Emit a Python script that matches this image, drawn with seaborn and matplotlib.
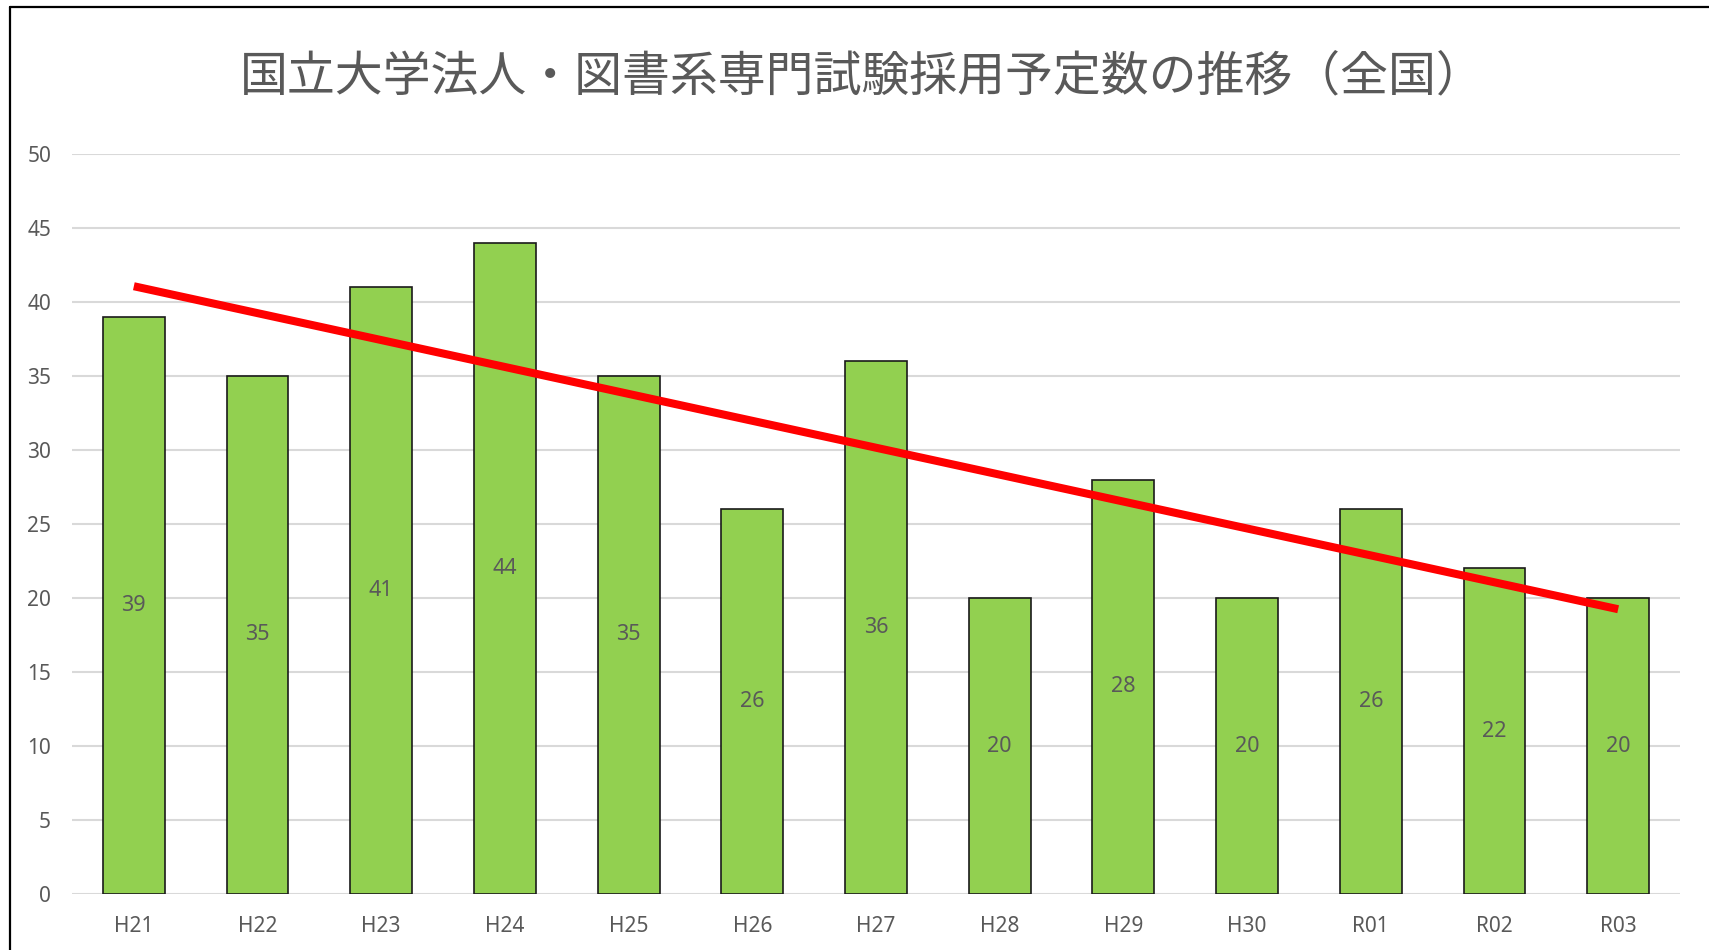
import numpy as np
import pandas as pd
import matplotlib
matplotlib.use("Agg")
import matplotlib.pyplot as plt
from matplotlib.lines import Line2D
import seaborn as sns

# Recruitment quota per fiscal year
categories = ["H21", "H22", "H23", "H24", "H25", "H26", "H27",
              "H28", "H29", "H30", "R01", "R02", "R03"]
values = [39, 35, 41, 44, 35, 26, 36, 20, 28, 20, 26, 22, 20]
title = "国立大学法人・図書系専門試験採用予定数の推移（全国）"
yticks = [0, 5, 10, 15, 20, 25, 30, 35, 40, 45, 50]

sns.set_theme(style="white")
plt.rcParams["font.family"] = ["Noto Sans", "Noto Sans CJK JP", "DejaVu Sans"]

TEXT = "#595959"
GRID = "#d9d9d9"
GREEN = "#92D050"

df = pd.DataFrame({"year": categories, "count": values,
                   "pos": np.arange(len(categories))})

W, H = 1709, 950
fig = plt.figure(figsize=(W / 100, H / 100), dpi=100)
ax = fig.add_axes([72 / W, 1 - 894 / H, (1680 - 72) / W, (894 - 154) / H])

sns.barplot(data=df, x="year", y="count", color=GREEN, saturation=1,
            width=0.5, edgecolor="#1a1a1a", linewidth=1.2, ax=ax, zorder=2)

# Linear trend line across the series
sns.regplot(data=df, x="pos", y="count", scatter=False, ci=None,
            color="#FF0000", line_kws={"linewidth": 5.8, "solid_capstyle": "butt",
                                       "zorder": 4}, ax=ax)

ax.bar_label(ax.containers[0], label_type="center", fontsize=15.5, color=TEXT)

ax.set_ylim(0, 50)
ax.set_xlim(-0.5, len(categories) - 0.5)
ax.set_yticks(yticks)
ax.set_xlabel("")
ax.set_ylabel("")
ax.grid(axis="y", color=GRID, linewidth=1.5, zorder=0)
ax.set_axisbelow(True)
for s in ax.spines.values():
    s.set_visible(False)
ax.tick_params(axis="y", length=0, pad=15, labelsize=15, labelcolor=TEXT)
ax.tick_params(axis="x", length=0, pad=16, labelsize=15, labelcolor=TEXT)

fig.text(0.5045, 1 - 77 / H, title, ha="center", va="center",
         fontsize=34.5, color=TEXT, family=["Noto Sans CJK JP", "DejaVu Sans"])

# Chart frame (left and top edges)
fig.add_artist(Line2D([10 / W, 10 / W], [0, 1 - 7 / H], transform=fig.transFigure,
                      color="black", linewidth=1.6))
fig.add_artist(Line2D([10 / W, 1], [1 - 7 / H, 1 - 7 / H], transform=fig.transFigure,
                      color="black", linewidth=1.6))

fig.savefig("out.png", dpi=100, facecolor="white")
